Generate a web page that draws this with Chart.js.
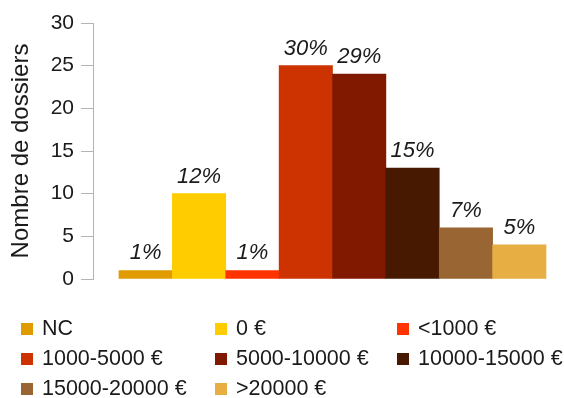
<!DOCTYPE html>
<html>
<head>
<meta charset="utf-8">
<script src="https://cdn.jsdelivr.net/npm/chart.js@4"></script>
<style>
  html, body { margin: 0; padding: 0; background: #fff; }
  #wrap { position: relative; width: 564px; height: 398px; }
  #legend { position: absolute; left: 0; top: 0; width: 564px; height: 398px; pointer-events: none;
    font-family: "Liberation Sans", Arial, sans-serif; font-size: 21.5px; color: #1a1a1a; }
  .item { position: absolute; height: 30px; display: flex; align-items: center; white-space: nowrap; }
  .box { width: 12px; height: 12px; margin-right: 9px; }
  .item span.t { line-height: 1; }
</style>
</head>
<body>
<div id="wrap">
  <canvas id="barChart" width="564" height="398"></canvas>
  <div id="legend"></div>
</div>
<script>
const categories = ["NC", "0 €", "<1000 €", "1000-5000 €", "5000-10000 €", "10000-15000 €", "15000-20000 €", ">20000 €"];
const counts = [1, 10, 1, 25, 24, 13, 6, 4];
const colors = ["#e09b00", "#ffcc00", "#ff3300", "#cc3300", "#801900", "#461900", "#996633", "#e6ae43"];
const yTicks = [0, 5, 10, 15, 20, 25, 30];

const total = counts.reduce((a, b) => a + b, 0);

// percentage labels above each bar
const pctLabels = {
  id: "pctLabels",
  afterDatasetsDraw(chart) {
    const ctx = chart.ctx;
    ctx.save();
    ctx.font = "italic 22px 'Liberation Sans', Arial, sans-serif";
    ctx.fillStyle = "#1a1a1a";
    ctx.textAlign = "center";
    ctx.textBaseline = "alphabetic";
    chart.getDatasetMeta(0).data.forEach((bar, i) => {
      const pct = Math.round(counts[i] / total * 100) + "%";
      ctx.fillText(pct, bar.x, bar.y - 11);
    });
    ctx.restore();
  }
};

document.addEventListener("DOMContentLoaded", function () {
  const ctx = document.getElementById("barChart").getContext("2d");

  new Chart(ctx, {
    type: "bar",
    data: {
      datasets: [
        {
          data: counts.map((v, i) => ({ x: i, y: v })),
          backgroundColor: colors,
          borderWidth: 0,
          barPercentage: 1,
          categoryPercentage: 1,
        },
      ],
    },
    options: {
      responsive: false,
      animation: false,
      layout: { padding: { top: 23, bottom: 119, left: 0, right: 0 } },
      plugins: { legend: { display: false }, tooltip: { enabled: false } },
      scales: {
        x: {
          type: "linear",
          display: false,
          offset: false,
          grid: { offset: false },
          min: -0.987,
          max: 7.837,
        },
        y: {
          min: 0,
          max: 30,
          afterFit(scale) { scale.width = 93; },
          afterBuildTicks(scale) { scale.ticks = yTicks.map(v => ({ value: v })); },
          grid: { drawOnChartArea: false, tickLength: 12, color: "#b3b3b3" },
          border: { color: "#b3b3b3" },
          ticks: {
            color: "#1a1a1a",
            padding: 7,
            font: { family: "'Liberation Sans', Arial, sans-serif", size: 21 },
          },
          title: {
            display: true,
            text: "Nombre de dossiers",
            color: "#1a1a1a",
            padding: { top: 7, bottom: 0 },
            font: { family: "'Liberation Sans', Arial, sans-serif", size: 24 },
          },
        },
      },
    },
    plugins: [pctLabels],
  });

  // legend in three columns
  const colX = [21, 215, 397];
  const rowY = [313.5, 343.5, 373.5];
  const legend = document.getElementById("legend");
  categories.forEach((name, i) => {
    const item = document.createElement("div");
    item.className = "item";
    item.style.left = colX[i % 3] + "px";
    item.style.top = rowY[Math.floor(i / 3)] + "px";
    item.innerHTML = '<span class="box" style="background:' + colors[i] + '"></span><span class="t"></span>';
    item.querySelector(".t").textContent = name;
    legend.appendChild(item);
  });
});
</script>
</body>
</html>
